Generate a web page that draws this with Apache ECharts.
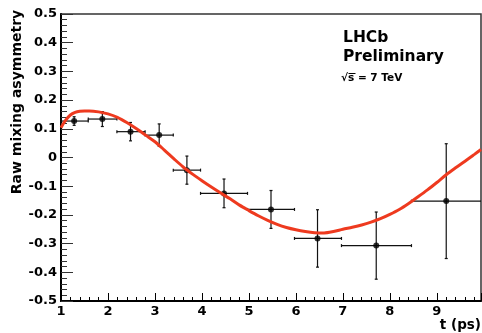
<!DOCTYPE html>
<html>
<head>
<meta charset="utf-8">
<script src="https://cdn.jsdelivr.net/npm/echarts@6/dist/echarts.min.js"></script>
<style>
html,body{margin:0;padding:0;background:#fff;}
#c{width:482px;height:333px;}
</style>
</head>
<body>
<div id="c"></div>
<script>
// Data points (bin centres, asymmetry, bin edges, vertical error)
const tCenter = [1.28, 1.88, 2.48, 3.09, 3.68, 4.47, 5.47, 6.46, 7.71, 9.20];
const asym    = [0.127, 0.134, 0.090, 0.078, -0.044, -0.125, -0.181, -0.282, -0.307, -0.152];
const tLow    = [1.00, 1.58, 2.19, 2.79, 3.39, 3.97, 4.97, 5.97, 6.97, 8.46];
const tHigh   = [1.58, 2.19, 2.79, 3.39, 3.97, 4.97, 5.97, 6.97, 8.46, 10.0];
const errAsym = [0.015, 0.026, 0.032, 0.039, 0.049, 0.050, 0.066, 0.100, 0.117, 0.200];

// Fit curve
const curveT = [1.0, 1.1, 1.2, 1.3, 1.4, 1.5, 1.6, 1.8, 2.0, 2.2, 2.4, 2.6, 2.8, 3.0, 3.2, 3.4, 3.6, 3.8, 4.0, 4.2, 4.4, 4.6, 4.8, 5.0, 5.2, 5.4, 5.6, 5.8, 6.0, 6.2, 6.4, 6.6, 6.8, 7.0, 7.2, 7.4, 7.6, 7.8, 8.0, 8.2, 8.4, 8.6, 8.8, 9.0, 9.2, 9.4, 9.6, 9.8, 9.94];
const curveA = [0.104, 0.130, 0.148, 0.157, 0.161, 0.162, 0.162, 0.159, 0.152, 0.140, 0.122, 0.101, 0.078, 0.055, 0.026, -0.004, -0.033, -0.058, -0.081, -0.103, -0.124, -0.144, -0.166, -0.185, -0.203, -0.219, -0.233, -0.244, -0.252, -0.258, -0.262, -0.263, -0.258, -0.250, -0.243, -0.235, -0.225, -0.213, -0.198, -0.181, -0.160, -0.137, -0.113, -0.087, -0.060, -0.036, -0.013, 0.011, 0.028];

// Axis settings
const xMin = 1, xMax = 9.94, xStep = 1;
const yMin = -0.5, yMax = 0.5, yStep = 0.1;

const FONT = '"DejaVu Sans", sans-serif';

const errData = tCenter.map((t, i) => [t, asym[i], tLow[i], tHigh[i], errAsym[i]]);
const ptData = tCenter.map((t, i) => [t, asym[i]]);
const curveData = curveT.map((t, i) => [t, curveA[i]]);

const chart = echarts.init(document.getElementById('c'));
chart.setOption({
  animation: false,
  backgroundColor: '#fff',
  grid: { left: 61, right: 1, top: 14, bottom: 32, show: true, borderColor: '#333', borderWidth: 1.5 },
  xAxis: {
    type: 'value', min: xMin, max: xMax, interval: xStep,
    axisLine: { show: true, onZero: false, lineStyle: { color: '#000', width: 2 } },
    axisTick: { show: true, inside: true, length: 8, lineStyle: { color: '#000', width: 1 } },
    minorTick: { show: true, splitNumber: 5, length: 4, lineStyle: { color: '#000', width: 1 } },
    splitLine: { show: false },
    axisLabel: { showMaxLabel: false, color: '#000', fontFamily: FONT, fontWeight: 'bold', fontSize: 13, margin: 4 }
  },
  yAxis: {
    type: 'value', min: yMin, max: yMax, interval: yStep,
    axisLine: { show: true, onZero: false, lineStyle: { color: '#000', width: 2 } },
    axisTick: { show: true, inside: true, length: 12, lineStyle: { color: '#333', width: 1 } },
    minorTick: { show: true, splitNumber: 5, length: 6, lineStyle: { color: '#333', width: 1 } },
    splitLine: { show: false },
    axisLabel: { color: '#000', fontFamily: FONT, fontWeight: 'bold', fontSize: 13, margin: 4 }
  },
  series: [
    {
      type: 'custom',
      data: errData,
      z: 2,
      renderItem: function (params, api) {
        const x = api.value(0), y = api.value(1), xl = api.value(2), xh = api.value(3), e = api.value(4);
        const cs = params.coordSys;
        const c = api.coord([x, y]);
        const l = api.coord([xl, y]);
        const r = api.coord([xh, y]);
        const t = api.coord([x, y + e]);
        const b = api.coord([x, y - e]);
        const right = cs.x + cs.width;
        const rx = Math.min(r[0], right);
        const st = { stroke: '#111', lineWidth: 1.2, fill: null };
        const kids = [
          { type: 'line', shape: { x1: l[0], y1: c[1], x2: rx, y2: c[1] }, style: st },
          { type: 'line', shape: { x1: c[0], y1: t[1], x2: c[0], y2: b[1] }, style: st },
          { type: 'line', shape: { x1: c[0] - 1.5, y1: t[1], x2: c[0] + 1.5, y2: t[1] }, style: st },
          { type: 'line', shape: { x1: c[0] - 1.5, y1: b[1], x2: c[0] + 1.5, y2: b[1] }, style: st },
          { type: 'line', shape: { x1: l[0], y1: c[1] - 1.5, x2: l[0], y2: c[1] + 1.5 }, style: st }
        ];
        if (r[0] <= right) {
          kids.push({ type: 'line', shape: { x1: r[0], y1: c[1] - 1.5, x2: r[0], y2: c[1] + 1.5 }, style: st });
        }
        return { type: 'group', children: kids };
      }
    },
    {
      type: 'scatter',
      data: ptData,
      symbol: 'circle',
      symbolSize: 6,
      itemStyle: { color: '#000' },
      z: 3
    },
    {
      type: 'line',
      data: curveData,
      smooth: 0.3,
      showSymbol: false,
      symbol: 'none',
      lineStyle: { color: '#ee3a1f', width: 3 },
      z: 4
    }
  ],
  graphic: [
    { type: 'text', x: 17, y: 102, rotation: Math.PI / 2,
      style: { text: 'Raw mixing asymmetry', fill: '#000', font: 'bold 14px ' + FONT, textAlign: 'center', textVerticalAlign: 'middle' } },
    { type: 'text', x: 481, y: 325.5,
      style: { text: 't (ps)', fill: '#000', font: 'bold 13.5px ' + FONT, textAlign: 'right', textVerticalAlign: 'middle' } },
    { type: 'text', x: 343, y: 37.5,
      style: { text: 'LHCb', fill: '#000', font: 'bold 15.5px ' + FONT, textAlign: 'left', textVerticalAlign: 'middle' } },
    { type: 'text', x: 343, y: 56.7,
      style: { text: 'Preliminary', fill: '#000', font: 'bold 15.5px ' + FONT, textAlign: 'left', textVerticalAlign: 'middle' } },
    { type: 'text', x: 341, y: 78.7,
      style: { text: '\u221As = 7 TeV', fill: '#000', font: 'bold 10.5px ' + FONT, textAlign: 'left', textVerticalAlign: 'middle' } },
    { type: 'line', shape: { x1: 348.5, y1: 73.5, x2: 355.5, y2: 73.5 }, style: { stroke: '#000', lineWidth: 1 } }
  ]
});
</script>
</body>
</html>
